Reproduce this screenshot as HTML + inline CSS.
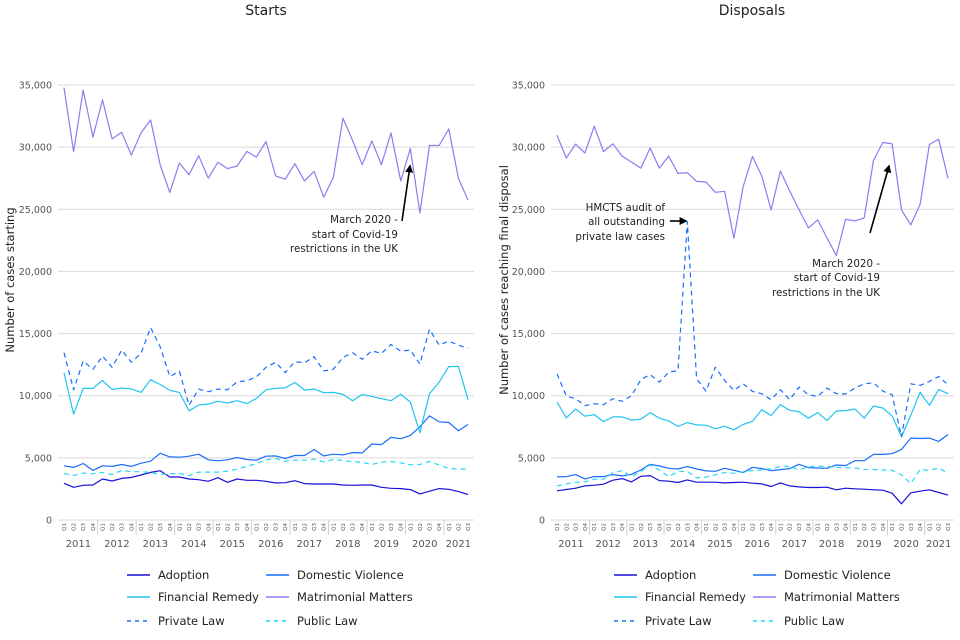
<!DOCTYPE html>
<html><head><meta charset="utf-8">
<style>
html,body{margin:0;padding:0;background:#fff;}
svg{display:block;font-family:"DejaVu Sans","Liberation Sans",sans-serif;}
</style></head>
<body>
<svg id="chart" width="960" height="640" viewBox="0 0 960 640">
<text x="266" y="15" text-anchor="middle" font-size="14" fill="#222">Starts</text>
<text x="752" y="15" text-anchor="middle" font-size="14" fill="#222">Disposals</text>
<text transform="translate(14,280) rotate(-90)" text-anchor="middle" font-size="11.5" fill="#222">Number of cases starting</text>
<text transform="translate(508,280) rotate(-90)" text-anchor="middle" font-size="11.5" fill="#222">Number of cases reaching final disposal</text>
<g id="left"></g>
<g id="right"></g>
<g id="ann" font-size="10.3" fill="#222">
  <text text-anchor="end"><tspan x="398" y="223">March 2020 -</tspan><tspan x="398" y="238">start of Covid-19</tspan><tspan x="398" y="252">restrictions in the UK</tspan></text>
  <text text-anchor="end"><tspan x="665" y="211">HMCTS audit of</tspan><tspan x="665" y="225">all outstanding</tspan><tspan x="665" y="240">private law cases</tspan></text>
  <text text-anchor="end"><tspan x="880" y="267">March 2020 -</tspan><tspan x="880" y="281">start of Covid-19</tspan><tspan x="880" y="296">restrictions in the UK</tspan></text>
</g>
<defs><marker id="ah" markerWidth="5" markerHeight="5" refX="4" refY="2.5" orient="auto" markerUnits="strokeWidth"><path d="M0,0 L5,2.5 L0,5 z" fill="#000"/></marker></defs>
<line x1="402" y1="221" x2="410" y2="166" stroke="#000" stroke-width="1.6" marker-end="url(#ah)"/>
<line x1="670" y1="221" x2="686" y2="221" stroke="#000" stroke-width="1.6" marker-end="url(#ah)"/>
<line x1="870" y1="233" x2="889" y2="166" stroke="#000" stroke-width="1.6" marker-end="url(#ah)"/>
<g id="legends"></g>
</svg>
<script>
const years = ["2011","2012","2013","2014","2015","2016","2017","2018","2019","2020","2021"];
const quarters = ["Q1","Q2","Q3","Q4"];
const yTicks = [0,5000,10000,15000,20000,25000,30000,35000];
const yTickLabels = ["0","5,000","10,000","15,000","20,000","25,000","30,000","35,000"];
const seriesNames = ["Adoption","Domestic Violence","Financial Remedy","Matrimonial Matters","Private Law","Public Law"];

const startsAdoption = [2952,2633,2793,2819,3298,3138,3351,3431,3617,3830,3963,3457,3457,3298,3245,3112,3404,3032,3298,3191,3191,3112,2979,3005,3165,2926,2899,2899,2899,2819,2793,2819,2819,2633,2553,2527,2447,2101,2314,2527,2473,2287,2048];
const startsDomestic = [4362,4229,4548,3989,4362,4309,4468,4309,4574,4734,5372,5080,5053,5133,5293,4840,4761,4840,5027,4867,4814,5133,5160,4947,5186,5186,5665,5160,5293,5239,5426,5399,6117,6064,6649,6543,6809,7500,8378,7899,7846,7181,7686];
const startsFinancial = [11862,8511,10585,10585,11223,10505,10612,10559,10266,11277,10904,10426,10266,8777,9255,9335,9548,9415,9601,9362,9787,10479,10585,10638,11064,10452,10532,10239,10266,10106,9601,10106,9947,9761,9601,10106,9495,7021,10160,11090,12340,12367,9681];
const startsMatrimonial = [34787,29628,34601,30798,33803,30665,31197,29362,31144,32181,28564,26356,28723,27766,29309,27500,28777,28271,28484,29654,29202,30452,27686,27420,28670,27287,28059,25984,27553,32340,30532,28590,30505,28590,31144,27287,29894,24707,30133,30133,31463,27500,25745];
const startsPrivate = [13457,10479,12793,12128,13191,12287,13670,12686,13404,15479,13936,11543,11968,9229,10532,10319,10532,10479,11117,11197,11516,12287,12686,11862,12739,12660,13138,11995,12128,13085,13457,12926,13617,13404,14122,13590,13670,12553,15346,14069,14388,14069,13803];
const startsPublic = [3750,3590,3777,3723,3830,3670,3989,3883,3883,3830,3670,3723,3750,3564,3856,3856,3856,3936,4096,4309,4548,4840,4947,4734,4814,4814,4894,4681,4867,4787,4681,4654,4468,4654,4707,4601,4441,4468,4707,4415,4149,4096,4096];

const dispAdoption = [2347,2454,2560,2747,2800,2880,3200,3334,3067,3520,3574,3174,3120,3014,3227,3040,3040,3040,2987,3014,3040,2960,2907,2694,2987,2747,2667,2614,2614,2640,2427,2560,2507,2480,2427,2400,2160,1307,2187,2320,2427,2214,2000];
const dispDomestic = [3467,3494,3654,3307,3494,3494,3654,3547,3680,4027,4481,4347,4161,4107,4294,4107,3947,3920,4161,4000,3814,4241,4134,3974,4054,4134,4481,4214,4187,4161,4427,4374,4774,4774,5281,5281,5334,5681,6587,6561,6587,6321,6881];
const dispFinancial = [9495,8214,8934,8348,8481,7921,8294,8294,8027,8107,8641,8188,7974,7521,7841,7654,7628,7334,7548,7254,7681,7948,8881,8401,9281,8828,8721,8188,8641,8001,8774,8801,8934,8188,9174,9014,8374,6694,8428,10268,9228,10508,10161];
const dispMatrimonial = [30963,29118,30241,29519,31685,29652,30267,29278,28797,28316,29920,28316,29278,27888,27941,27246,27193,26364,26444,22674,26845,29251,27674,24947,28075,26470,24973,23503,24144,22700,21283,24198,24064,24305,28930,30374,30267,24947,23743,25401,30214,30642,27487];
const dispPrivate = [11761,9975,9761,9201,9361,9281,9761,9548,10001,11281,11708,11095,11895,12028,24000,11361,10375,12295,11228,10428,10961,10348,10161,9681,10481,9681,10695,10081,9948,10615,10161,10135,10615,10961,11041,10375,10081,6694,10961,10828,11148,11548,10881];
const dispPublic = [2747,2907,3040,3067,3280,3280,3814,3974,3494,3894,4427,4027,3494,3894,3920,3387,3440,3627,3814,3760,3867,3974,4027,4134,4294,4347,4027,4267,4347,4294,4241,4214,4187,4080,4054,4027,4000,3627,2934,4080,3974,4187,3760];

const colors = ["#1a0fd8","#1a6dff","#20c4f0","#8c7cf0","#1a6dff","#22d8f8"];
const dashes = [null,null,null,null,"5,4","5,4"];
const NS = "http://www.w3.org/2000/svg";
function mk(tag, attrs, parent){const e=document.createElementNS(NS,tag);for(const k in attrs)e.setAttribute(k,attrs[k]);parent.appendChild(e);return e;}

function drawPanel(g, p, data, prefix){
  const n = data[0].length;
  const step = (p.xLast - p.xFirst)/(n-1);
  const xS = i => p.xFirst + i*step;
  const yS = v => p.y0 - v/35000*(p.y0-p.yTop);
  yTicks.forEach((t,i)=>{
    const l = mk("line",{x1:p.gx0,x2:p.gx1,y1:yS(t),y2:yS(t),stroke:"#e0e0e0","stroke-width":1.2},g);
    
    
    const tx = mk("text",{x:p.gx0-6,y:yS(t)+3.5,"text-anchor":"end","font-size":"9.5",fill:"#555"},g);
    tx.textContent = yTickLabels[i];
    
    
  });
  for(let i=0;i<n;i++){
    const x=xS(i);
    const q = mk("text",{transform:`translate(${x+2},523) rotate(-90)`,"text-anchor":"end","font-size":"5.5",fill:"#555"},g);
    q.textContent = quarters[i%4];
    
    
  }
  years.forEach((yr,k)=>{
    const i0=k*4, i1=Math.min(k*4+3,n-1);
    const cx=(xS(i0)+xS(i1))/2;
    const t = mk("text",{x:cx,y:547,"text-anchor":"middle","font-size":"10",fill:"#555"},g);
    t.textContent = yr;
    
    
    if(k>0){
      const sx = xS(i0)-step/2;
      const s = mk("line",{x1:sx,x2:sx,y1:520,y2:535,stroke:"#d0d0d0","stroke-width":1},g);
      
      
    }
  });
  data.forEach((arr,si)=>{
    const d = arr.map((v,i)=>(i?"L":"M")+xS(i).toFixed(1)+","+yS(v).toFixed(1)).join(" ");
    const a = {d:d,fill:"none",stroke:colors[si],"stroke-width":1.2,"stroke-linejoin":"round"};
    if(dashes[si]) a["stroke-dasharray"]=dashes[si];
    const path = mk("path",a,g);
    
    
  });
}
drawPanel(document.getElementById("left"),{xFirst:64,xLast:468,y0:520,yTop:85,gx0:58,gx1:474},
  [startsAdoption,startsDomestic,startsFinancial,startsMatrimonial,startsPrivate,startsPublic],"starts");
drawPanel(document.getElementById("right"),{xFirst:557,xLast:948,y0:520,yTop:85,gx0:551,gx1:954},
  [dispAdoption,dispDomestic,dispFinancial,dispMatrimonial,dispPrivate,dispPublic],"disposals");

const lg = document.getElementById("legends");
[0,487].forEach((off,pi)=>{
  const grp = mk("g",{},lg);
  
  
  [0,1,2,3,4,5].forEach(si=>{
    const col=si%2, row=Math.floor(si/2);
    const lx = off + (col? 266:127), ty = [575,597,621][row];
    const a={x1:lx,x2:lx+23,y1:ty,y2:ty,stroke:colors[si],"stroke-width":1.5};
    if(dashes[si]) a["stroke-dasharray"]="4,4";
    const ln = mk("line",a,grp);
    
    
    const t = mk("text",{x:lx+31,y:ty+4,"font-size":"11.5",fill:"#222"},grp);
    t.textContent = seriesNames[si];
    
    
  });
});
</script>
</body></html>
